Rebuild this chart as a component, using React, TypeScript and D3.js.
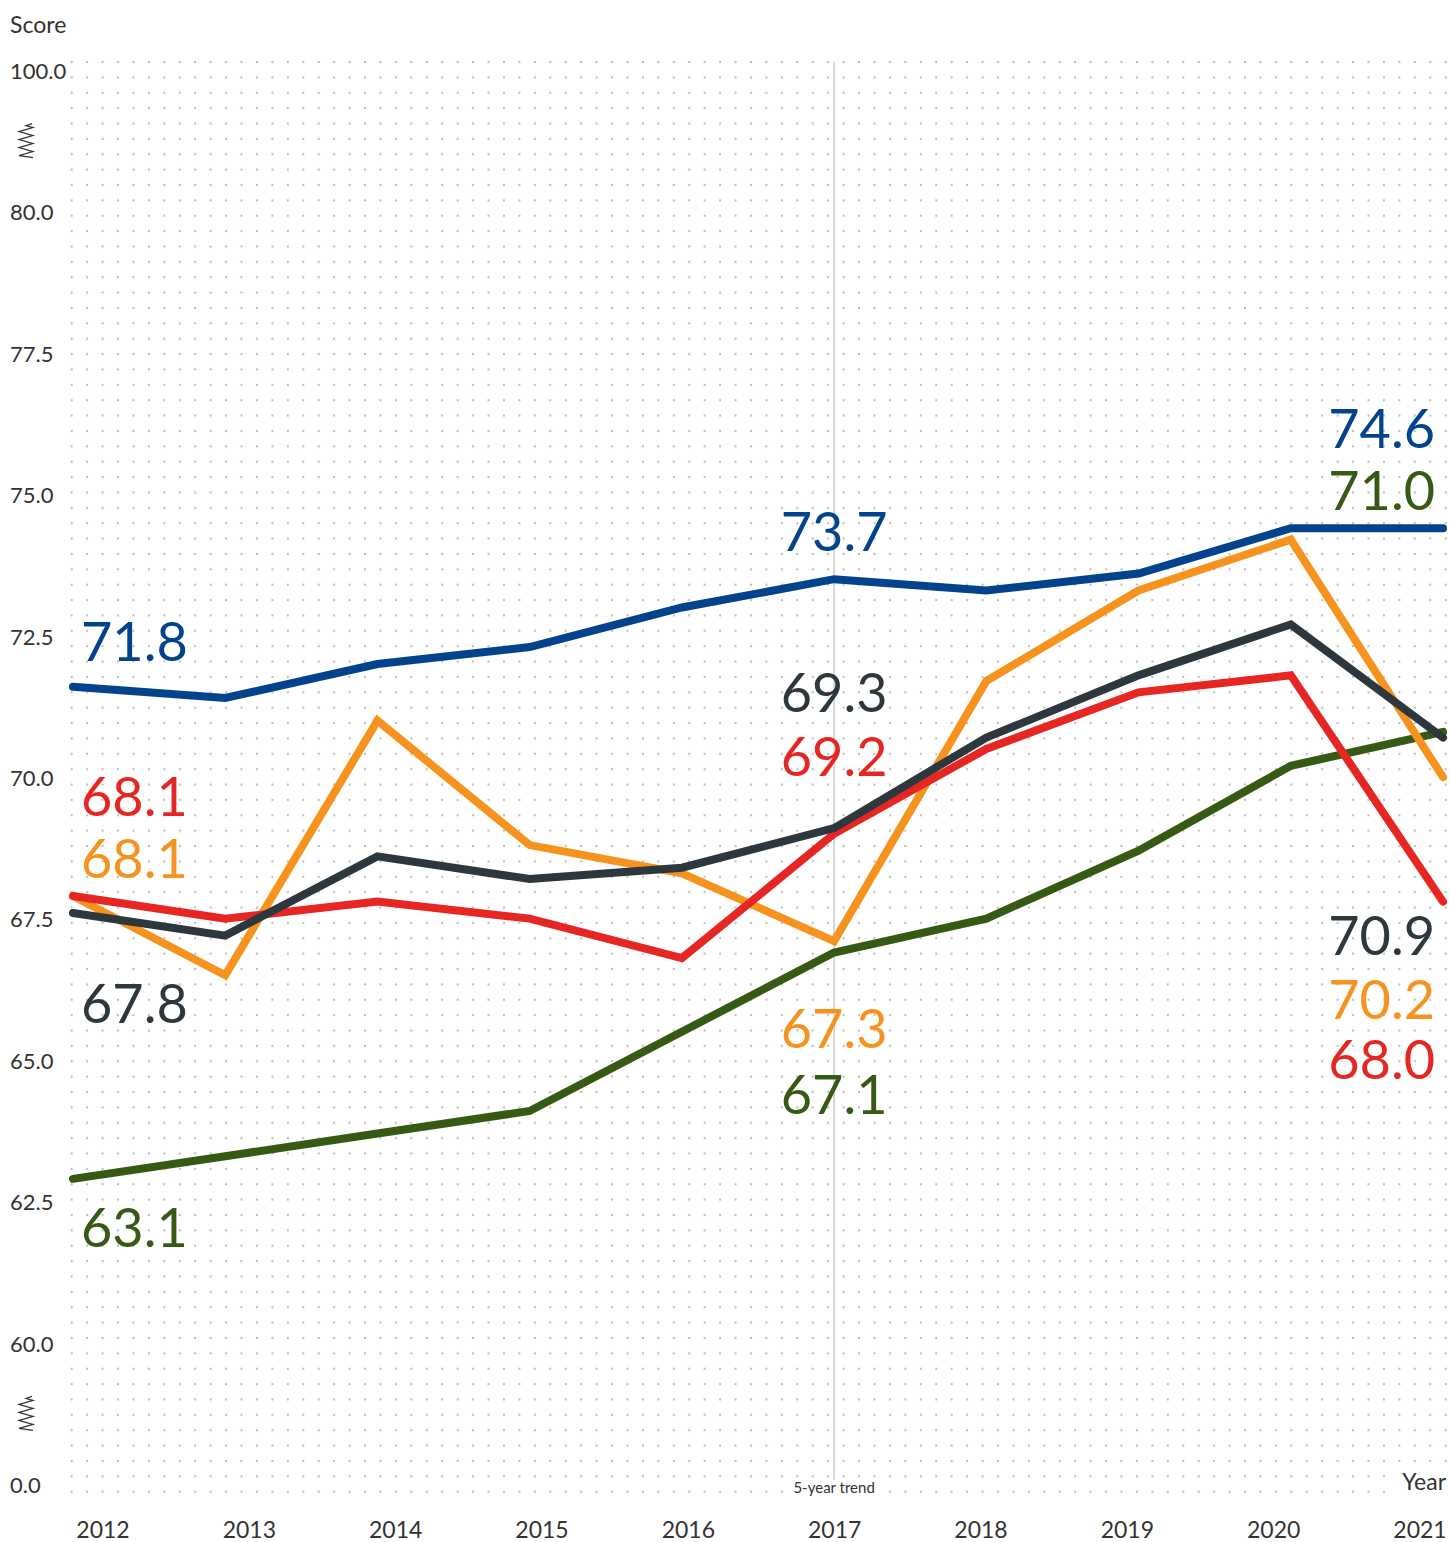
import React from "react";
import * as d3 from "d3";

const years = [2012, 2013, 2014, 2015, 2016, 2017, 2018, 2019, 2020, 2021];
const blueScores = [71.8, 71.6, 72.2, 72.5, 73.2, 73.7, 73.5, 73.8, 74.6, 74.6];
const orangeScores = [68.1, 66.7, 71.2, 69.0, 68.5, 67.3, 71.9, 73.5, 74.4, 70.2];
const redScores = [68.1, 67.7, 68.0, 67.7, 67.0, 69.2, 70.7, 71.7, 72.0, 68.0];
const darkScores = [67.8, 67.4, 68.8, 68.4, 68.6, 69.3, 70.9, 72.0, 72.9, 70.9];
const greenScores = [63.1, 63.5, 63.9, 64.3, 65.7, 67.1, 67.7, 68.9, 70.4, 71.0];
const yTicks = [0, 60, 62.5, 65, 67.5, 70, 72.5, 75, 77.5, 80, 100];
const breakValues = [90, 30];
const trendYear = 2017;

const series = [
  { key: "green", color: "#365914", values: greenScores },
  { key: "orange", color: "#f6931e", values: orangeScores },
  { key: "red", color: "#e52622", values: redScores },
  { key: "dark", color: "#2c383e", values: darkScores },
  { key: "blue", color: "#03428c", values: blueScores },
];

// label layout: pixel offset of baseline from the point, per year index
const labelLayout: Record<string, { idx: number; dy: number }[]> = {
  blue: [{ idx: 0, dy: -26 }, { idx: 5, dy: -28 }, { idx: 9, dy: -80 }],
  red: [{ idx: 0, dy: -80 }, { idx: 5, dy: -58 }, { idx: 9, dy: 177 }],
  orange: [{ idx: 0, dy: -18 }, { idx: 5, dy: 107 }, { idx: 9, dy: 242 }],
  dark: [{ idx: 0, dy: 110 }, { idx: 5, dy: -116 }, { idx: 9, dy: 217 }],
  green: [{ idx: 0, dy: 68 }, { idx: 5, dy: 161 }, { idx: 9, dy: -222 }],
};

const W = 1449;
const H = 1542;
const FONT = "Lato, 'Open Sans', sans-serif";

export default function App() {
  const x = d3.scalePoint<number>().domain(years).range([73, 1443]);
  const xLabel = d3.scalePoint<number>().domain(years).range([103, 1420]);
  const y = d3
    .scaleLinear()
    .domain([0, 60, 80, 100])
    .range([1495.6, 1354.2, 222.8, 81.4]);

  const line = d3
    .line<number>()
    .x((_, i) => x(years[i]) as number)
    .y((d) => y(d));

  const dxStep = (1445.7 - 71.7) / 89;
  const dyStep = (1491.7 - 62) / 93;

  const trendX = x(trendYear) as number;

  return (
    <svg
      width={W}
      height={H}
      style={{ position: "absolute", left: 0, top: 0, display: "block", background: "#fff" }}
      fontFamily={FONT}
    >
      <defs>
        <pattern
          id="dots"
          patternUnits="userSpaceOnUse"
          x={71.7 - dxStep / 2}
          y={62 - dyStep / 2}
          width={dxStep}
          height={dyStep}
        >
          <circle cx={dxStep / 2} cy={dyStep / 2} r={1.15} fill="#bdbdbd" />
        </pattern>
      </defs>
      <rect width={W} height={H} fill="#fff" />
      <rect
        x={71.7 - dxStep / 2}
        y={62 - dyStep / 2}
        width={dxStep * 90}
        height={dyStep * 94}
        fill="url(#dots)"
      />

      {/* trend line */}
      <line x1={trendX} x2={trendX} y1={62} y2={1480} stroke="#c4c4c4" strokeWidth={1.3} />
      <rect x={trendX - 44} y={1480} width={88} height={16} fill="#fff" />
      <text x={trendX} y={1493} textAnchor="middle" fontSize={15} fill="#333">
        5-year trend
      </text>

      {/* axis titles */}
      <text x={10} y={33} fontSize={23} fill="#333">Score</text>
      <rect x={1396} y={1470} width={53} height={24} fill="#fff" />
      <text x={1446} y={1490} textAnchor="end" fontSize={23} fill="#333">Year</text>

      {/* y ticks */}
      {yTicks.map((t) => (
        <text key={t} x={10} y={y(t) - 2.5} fontSize={22} fill="#333">
          {t.toFixed(1)}
        </text>
      ))}

      {/* axis breaks */}
      {breakValues.map((v) => {
        const cy = y(v) - 11.5;
        const pts: [number, number][] = [[32, cy - 17], [26, cy - 15]];
        for (let k = 0; k < 8; k++) {
          pts.push([k % 2 === 0 ? 33 : 19, cy - 13 + k * 4]);
        }
        pts.push([33, cy + 17]);
        return (
          <path
            key={v}
            d={d3.line()(pts) as string}
            fill="none"
            stroke="#333"
            strokeWidth={1.2}
          />
        );
      })}

      {/* x labels */}
      {years.map((yr) => (
        <text key={yr} x={xLabel(yr)} y={1538} textAnchor="middle" fontSize={23} fill="#333">
          {yr}
        </text>
      ))}

      {/* lines */}
      {series.map((s) => (
        <path
          key={s.key}
          d={line(s.values) as string}
          fill="none"
          stroke={s.color}
          strokeWidth={8}
          strokeLinecap="round"
          strokeLinejoin="miter"
        />
      ))}

      {/* value labels */}
      {series.map((s) =>
        labelLayout[s.key].map((l) => {
          const px = x(years[l.idx]) as number;
          const py = y(s.values[l.idx]);
          const anchor = l.idx === 0 ? "start" : l.idx === years.length - 1 ? "end" : "middle";
          const lx = l.idx === 0 ? px + 8 : l.idx === years.length - 1 ? px - 8 : px;
          return (
            <text
              key={s.key + l.idx}
              x={lx}
              y={py + l.dy}
              textAnchor={anchor}
              fontSize={54}
              fontWeight={400}
              fill={s.color}
            >
              {s.values[l.idx].toFixed(1)}
            </text>
          );
        })
      )}
    </svg>
  );
}
